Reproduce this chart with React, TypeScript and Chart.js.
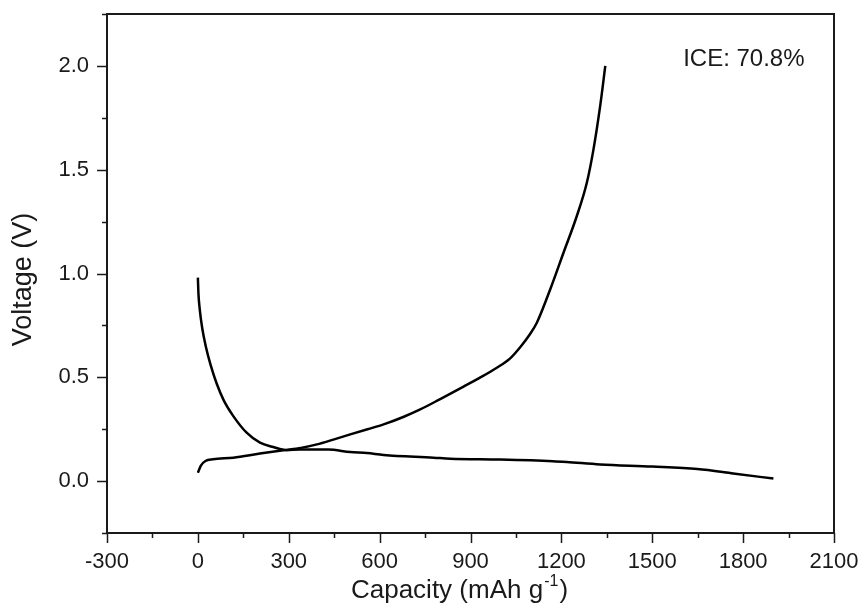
import React, { useEffect, useRef } from "react";
import { Chart, registerables } from "chart.js";

Chart.register(...registerables);

// Charge curve (capacity mAh/g, voltage V)
const chargeCapacity = [0, 10, 25, 50, 117, 205, 282, 340, 393, 447, 503, 560, 613, 680, 734, 800, 877, 930, 987, 1030, 1064, 1095, 1119, 1163, 1207, 1251, 1284, 1306, 1328, 1345];
const chargeVoltage = [0.04, 0.075, 0.097, 0.105, 0.113, 0.133, 0.149, 0.16, 0.177, 0.2, 0.225, 0.25, 0.273, 0.31, 0.345, 0.395, 0.455, 0.497, 0.546, 0.59, 0.645, 0.705, 0.763, 0.923, 1.1, 1.277, 1.437, 1.598, 1.806, 2.0];

// Discharge curve
const dischargeCapacity = [0, 2, 6, 14, 26, 42, 62, 85, 117, 161, 205, 249, 293, 337, 430, 503, 558, 613, 778, 833, 998, 1172, 1218, 1328, 1500, 1649, 1767, 1900];
const dischargeVoltage = [0.98, 0.9, 0.83, 0.74, 0.65, 0.56, 0.47, 0.39, 0.313, 0.233, 0.185, 0.164, 0.149, 0.152, 0.152, 0.14, 0.135, 0.126, 0.113, 0.108, 0.104, 0.096, 0.092, 0.08, 0.07, 0.058, 0.037, 0.012];

const xMin = -300;
const xMax = 2100;
const xStep = 150;
const xMajor = 300;
const yMin = -0.25;
const yMax = 2.25;
const yStep = 0.25;

const annotationText = "ICE: 70.8%";
const annotationX = 1602;
const annotationY = 2.0;

const xTitleMain = "Capacity (mAh g";
const xTitleSup = "-1";
const xTitleEnd = ")";
const yTitle = "Voltage (V)";

const FONT = "'Liberation Sans', Arial, sans-serif";
const INK = "#1a1a1a";

const toPoints = (xs: number[], ys: number[]) => xs.map((x, i) => ({ x, y: ys[i] }));

const framePlugin = {
  id: "frameAndExtras",
  afterDraw(chart: any) {
    const { ctx, chartArea } = chart;
    const xs = chart.scales.x;
    const ys = chart.scales.y;
    ctx.save();
    ctx.strokeStyle = INK;
    ctx.lineWidth = 2;
    ctx.strokeRect(chartArea.left, chartArea.top, chartArea.right - chartArea.left, chartArea.bottom - chartArea.top);
    // ticks
    ctx.lineWidth = 1.5;
    ctx.beginPath();
    xs.ticks.forEach((t: any) => {
      const px = Math.round(xs.getPixelForValue(t.value)) + 0.5;
      const major = Math.abs(t.value % xMajor) < 1e-6;
      const len = major ? 10 : 5;
      ctx.moveTo(px, chartArea.bottom);
      ctx.lineTo(px, chartArea.bottom + len);
    });
    ys.ticks.forEach((t: any) => {
      const py = Math.round(ys.getPixelForValue(t.value)) + 0.5;
      const major = Math.abs(t.value * 2 - Math.round(t.value * 2)) < 1e-6;
      const len = major ? 10 : 5;
      ctx.moveTo(chartArea.left, py);
      ctx.lineTo(chartArea.left - len, py);
    });
    ctx.stroke();

    // annotation
    ctx.fillStyle = INK;
    ctx.font = `24px ${FONT}`;
    ctx.textAlign = "left";
    ctx.textBaseline = "alphabetic";
    ctx.fillText(annotationText, xs.getPixelForValue(annotationX), ys.getPixelForValue(annotationY));

    // x title with superscript
    const mainFont = `26px ${FONT}`;
    const supFont = `16px ${FONT}`;
    ctx.font = mainFont;
    const w1 = ctx.measureText(xTitleMain).width;
    const w3 = ctx.measureText(xTitleEnd).width;
    ctx.font = supFont;
    const w2 = ctx.measureText(xTitleSup).width;
    const total = w1 + w2 + w3 + 2;
    const cx = (chartArea.left + chartArea.right) / 2 - 11;
    let x0 = cx - total / 2;
    const base = chartArea.bottom + 65;
    ctx.font = mainFont;
    ctx.fillText(xTitleMain, x0, base);
    x0 += w1 + 1;
    ctx.font = supFont;
    ctx.fillText(xTitleSup, x0, base - 12);
    x0 += w2 + 1;
    ctx.font = mainFont;
    ctx.fillText(xTitleEnd, x0, base);

    // y title
    ctx.save();
    ctx.translate(chartArea.left - 83, (chartArea.top + chartArea.bottom) / 2 + 6);
    ctx.rotate(-Math.PI / 2);
    ctx.font = `27px ${FONT}`;
    ctx.textAlign = "center";
    ctx.textBaseline = "middle";
    ctx.fillText(yTitle, 0, 0);
    ctx.restore();

    ctx.restore();
  },
};

export default function App() {
  const ref = useRef<HTMLCanvasElement | null>(null);
  useEffect(() => {
    if (!ref.current) return;
    const chart = new Chart(ref.current, {
      type: "line",
      data: {
        datasets: [
          {
            label: "Discharge",
            data: toPoints(dischargeCapacity, dischargeVoltage),
            borderColor: "#000",
            borderWidth: 2.5,
            pointRadius: 0,
            cubicInterpolationMode: "monotone",
            fill: false,
          },
          {
            label: "Charge",
            data: toPoints(chargeCapacity, chargeVoltage),
            borderColor: "#000",
            borderWidth: 2.5,
            pointRadius: 0,
            cubicInterpolationMode: "monotone",
            fill: false,
          },
        ],
      },
      options: {
        animation: false,
        responsive: true,
        maintainAspectRatio: false,
        layout: { padding: { top: 14, right: 32, left: 0, bottom: 0 } },
        plugins: { legend: { display: false }, tooltip: { enabled: false } },
        scales: {
          x: {
            type: "linear",
            min: xMin,
            max: xMax,
            afterFit: (s: any) => {
              s.height = 77;
              s.paddingLeft = 0;
              s.paddingRight = 0;
              s.paddingTop = 0;
              s.paddingBottom = 0;
            },
            border: { display: false },
            grid: { display: true, drawOnChartArea: false, drawTicks: false, color: "rgba(0,0,0,0)" },
            ticks: {
              stepSize: xStep,
              autoSkip: false,
              maxRotation: 0,
              padding: 16,
              color: INK,
              font: { family: FONT, size: 22 },
              callback: (v: any) => (Math.abs(Number(v) % xMajor) < 1e-6 ? String(v) : ""),
            },
            title: { display: false },
          },
          y: {
            type: "linear",
            min: yMin,
            max: yMax,
            afterFit: (s: any) => {
              s.width = 107;
              s.paddingLeft = 0;
              s.paddingRight = 0;
              s.paddingTop = 0;
              s.paddingBottom = 0;
            },
            border: { display: false },
            grid: { display: true, drawOnChartArea: false, drawTicks: false, color: "rgba(0,0,0,0)" },
            ticks: {
              stepSize: yStep,
              autoSkip: false,
              padding: 18,
              color: INK,
              font: { family: FONT, size: 22 },
              callback: (v: any) => {
                const n = Number(v);
                return Math.abs(n * 2 - Math.round(n * 2)) < 1e-6 ? n.toFixed(1) : "";
              },
            },
            title: { display: false },
          },
        },
      },
      plugins: [framePlugin],
    } as any);
    return () => chart.destroy();
  }, []);
  return (
    <div style={{ position: "fixed", left: 0, top: 0, width: 866, height: 610, background: "#fff" }}>
      <canvas ref={ref} />
    </div>
  );
}
